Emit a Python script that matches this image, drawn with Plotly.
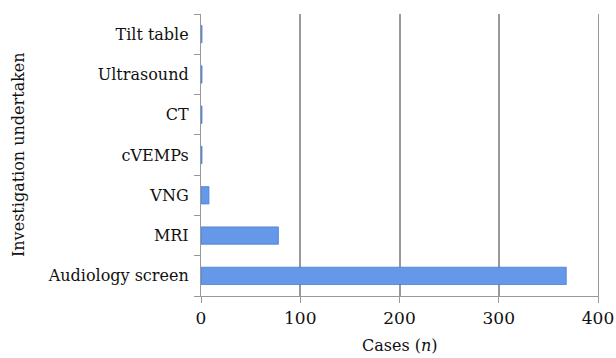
import plotly.graph_objects as go

categories = ["Audiology screen", "MRI", "VNG", "cVEMPs", "CT", "Ultrasound", "Tilt table"]
cases = [368, 78, 8, 1, 1, 1, 1]
x_ticks = [0, 100, 200, 300, 400]

fig = go.Figure()
fig.add_trace(go.Bar(
    y=categories, x=cases, orientation="h",
    marker=dict(color="#6598e8", line=dict(color="#4a7ed6", width=0.8)),
    width=0.43,
))

serif = "DejaVu Serif, serif"
fig.update_layout(
    width=616, height=358,
    margin=dict(l=201, r=18, t=14, b=62),
    paper_bgcolor="white", plot_bgcolor="white",
    showlegend=False,
    font=dict(family=serif, size=16, color="#111"),
    xaxis=dict(
        range=[0, 400], tickvals=x_ticks, ticks="outside", ticklen=6,
        tickcolor="#999", showline=True, linecolor="#999", linewidth=1.2,
        showgrid=True, gridcolor="#999", gridwidth=1.5, zeroline=False,
        tickfont=dict(size=17), automargin=False,
    ),
    yaxis=dict(
        categoryorder="array", categoryarray=categories,
        ticks="outside", tickson="boundaries", ticklen=6, tickcolor="#999",
        showline=True, linecolor="#999", linewidth=1.2, mirror=True, showgrid=False,
        tickfont=dict(size=16), automargin=False, ticklabelstandoff=8,
    ),
    annotations=[
        dict(text="Investigation undertaken", textangle=-90, xref="paper", yref="paper",
             x=(18 - 201) / 397, y=0.5, xanchor="center", yanchor="middle",
             showarrow=False, font=dict(size=16)),
        dict(text="Cases (<i>n</i>)", xref="paper", yref="paper",
             x=0.5, y=(296 - 345) / 282, xanchor="center", yanchor="middle",
             showarrow=False, font=dict(size=16)),
    ],
)
fig.write_html("out.html", config={"displayModeBar": False},
               post_script="document.body.style.margin='0';")
